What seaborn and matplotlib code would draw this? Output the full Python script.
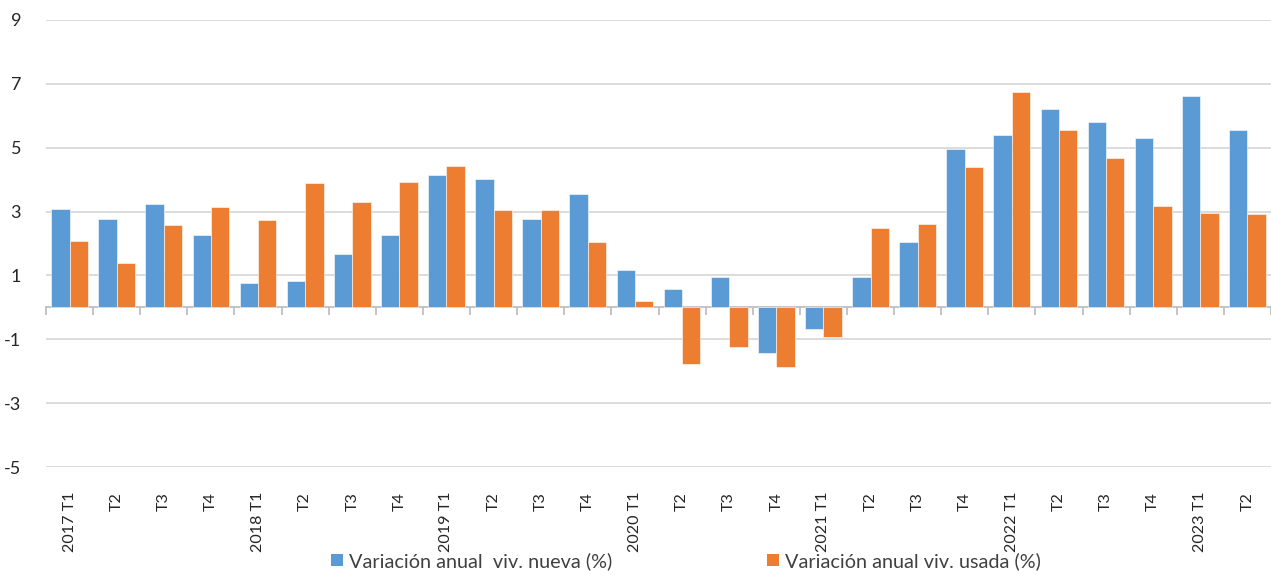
import matplotlib
matplotlib.use("Agg")
import matplotlib.pyplot as plt
import seaborn as sns
import pandas as pd
from matplotlib.patches import Patch
from matplotlib.ticker import FixedLocator, NullFormatter

categories = ["2017 T1", "T2", "T3", "T4",
              "2018 T1", "T2", "T3", "T4",
              "2019 T1", "T2", "T3", "T4",
              "2020 T1", "T2", "T3", "T4",
              "2021 T1", "T2", "T3", "T4",
              "2022 T1", "T2", "T3", "T4",
              "2023 T1", "T2"]
nueva = [3.08, 2.78, 3.23, 2.26,
         0.75, 0.82, 1.66, 2.26,
         4.13, 4.03, 2.78, 3.56,
         1.18, 0.57, 0.96, -1.44,
         -0.67, 0.94, 2.06, 4.97,
         5.41, 6.22, 5.81, 5.30,
         6.61, 5.57]
usada = [2.09, 1.40, 2.58, 3.13,
         2.75, 3.91, 3.31, 3.93,
         4.43, 3.06, 3.06, 2.04,
         0.21, -1.77, -1.24, -1.87,
         -0.92, 2.48, 2.62, 4.39,
         6.76, 5.55, 4.69, 3.16,
         2.97, 2.91]
series_names = ["Variación anual  viv. nueva (%)", "Variación anual viv. usada (%)"]
colors = ["#5B9BD5", "#ED7D31"]
yticks = [-5, -3, -1, 1, 3, 5, 7, 9]

sns.set_theme(style="white")
plt.rcParams['font.family'] = ['Lato', 'DejaVu Sans']

idx = list(range(len(categories)))
df = pd.DataFrame({
    "pos": idx * 2,
    "value": nueva + usada,
    "serie": [series_names[0]] * len(nueva) + [series_names[1]] * len(usada),
})

fig = plt.figure(figsize=(12.71, 5.75), dpi=100)
ax = fig.add_axes([46 / 1271, 1 - 467 / 575, 1 - 46 / 1271, (467 - 20) / 575])

sns.barplot(data=df, x="pos", y="value", hue="serie", palette=colors,
            width=0.78, ax=ax, legend=False, saturation=1,
            edgecolor="white", linewidth=0.4)

ax.set_xlim(-0.5, len(categories) - 0.5)
ax.set_ylim(-5, 9)
ax.set_yticks(yticks)
ax.set_yticklabels([str(t) for t in yticks])
ax.yaxis.grid(True, color="#d9d9d9", linewidth=1.3)
ax.set_axisbelow(True)
for s in ax.spines.values():
    s.set_visible(False)

ax.set_xticks(idx)
ax.set_xticklabels(categories, rotation=90, fontsize=11.6, color="#262626")
ax.tick_params(axis="x", length=0, pad=18)
ax.tick_params(axis="y", length=0, pad=18, labelsize=13, labelcolor="#262626")
ax.set_xlabel("")
ax.set_ylabel("")

# zero axis line with category separators
zero_frac = (0 - (-5)) / (9 - (-5))
sec = ax.secondary_xaxis(zero_frac)
sec.spines["bottom"].set_color("#bfbfbf")
sec.spines["bottom"].set_linewidth(1.3)
sec.spines["top"].set_visible(False)
sec.xaxis.set_major_locator(FixedLocator([i - 0.5 for i in idx] + [len(categories) - 0.5]))
sec.xaxis.set_major_formatter(NullFormatter())
sec.tick_params(axis="x", length=6, width=1.3, color="#bfbfbf", direction="out")

handles = [Patch(facecolor=c, edgecolor="none") for c in colors]
fig.legend(handles, series_names, loc="center", bbox_to_anchor=(0.54, 0.024),
           ncol=2, frameon=False, fontsize=14.3, handlelength=0.6, handleheight=0.6,
           handletextpad=0.3, columnspacing=7.8, labelcolor="#404040",
           borderpad=0.1)

fig.savefig("out.png", dpi=100)
